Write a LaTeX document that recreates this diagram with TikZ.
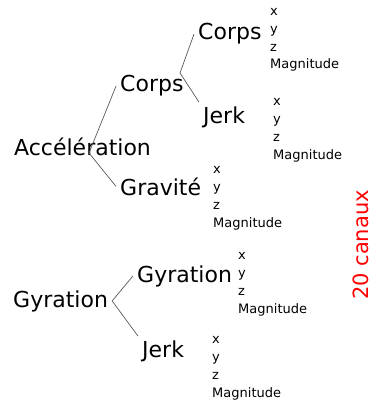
\documentclass[tikz,border=0pt]{standalone}
\usepackage{fontspec}
\setmainfont{DejaVu Sans}
\usetikzlibrary{calc}

\begin{document}
\begin{tikzpicture}[x=1pt,y=-1pt,
  grand/.style={anchor=base west,inner sep=4pt,font=\fontsize{22}{26}\selectfont},
  liste/.style={anchor=base west,inner sep=0pt,align=left,font=\fontsize{13}{17.8}\selectfont},
  branche/.style={draw=black!65,line width=0.7pt}]
  \useasboundingbox (0,0) rectangle (370,401);

  \node[grand] (acc) at (10,155) {Accélération};
  \node[grand] (corpsA) at (116,92) {Corps};
  \node[grand] (gravite) at (116,195) {Gravité};
  \node[grand] (corpsB) at (194,40) {Corps};
  \node[grand] (jerkA) at (199,123) {Jerk};
  \node[grand] (gyrA) at (9,307) {Gyration};
  \node[grand] (gyrB) at (133,282) {Gyration};
  \node[grand] (jerkB) at (138,357) {Jerk};

  \coordinate (jA) at (89,153);
  \coordinate (jB) at (180,73);

  \draw[branche] (corpsA.west) -- (jA) -- (gravite.west);
  \draw[branche] (corpsB.west) -- (jB) -- (jerkA.north west);
  \draw[branche] (gyrB.west) -- (gyrA.east) -- (jerkB.north west);

  \node[liste] (canCorps) at (270,69) {x\\y\\z\\Magnitude};
  \node[liste] (canJerkA) at (273,159) {x\\y\\z\\Magnitude};
  \node[liste] (canGrav) at (213,227) {x\\y\\z\\Magnitude};
  \node[liste] (canGyr) at (238,313) {x\\y\\z\\Magnitude};
  \node[liste] (canJerkB) at (212,397) {x\\y\\z\\Magnitude};

  \node[rotate=90,anchor=base west,inner sep=0pt,text=red,font=\fontsize{21}{25}\selectfont] (total) at (368,300) {20 canaux};
\end{tikzpicture}
\end{document}
